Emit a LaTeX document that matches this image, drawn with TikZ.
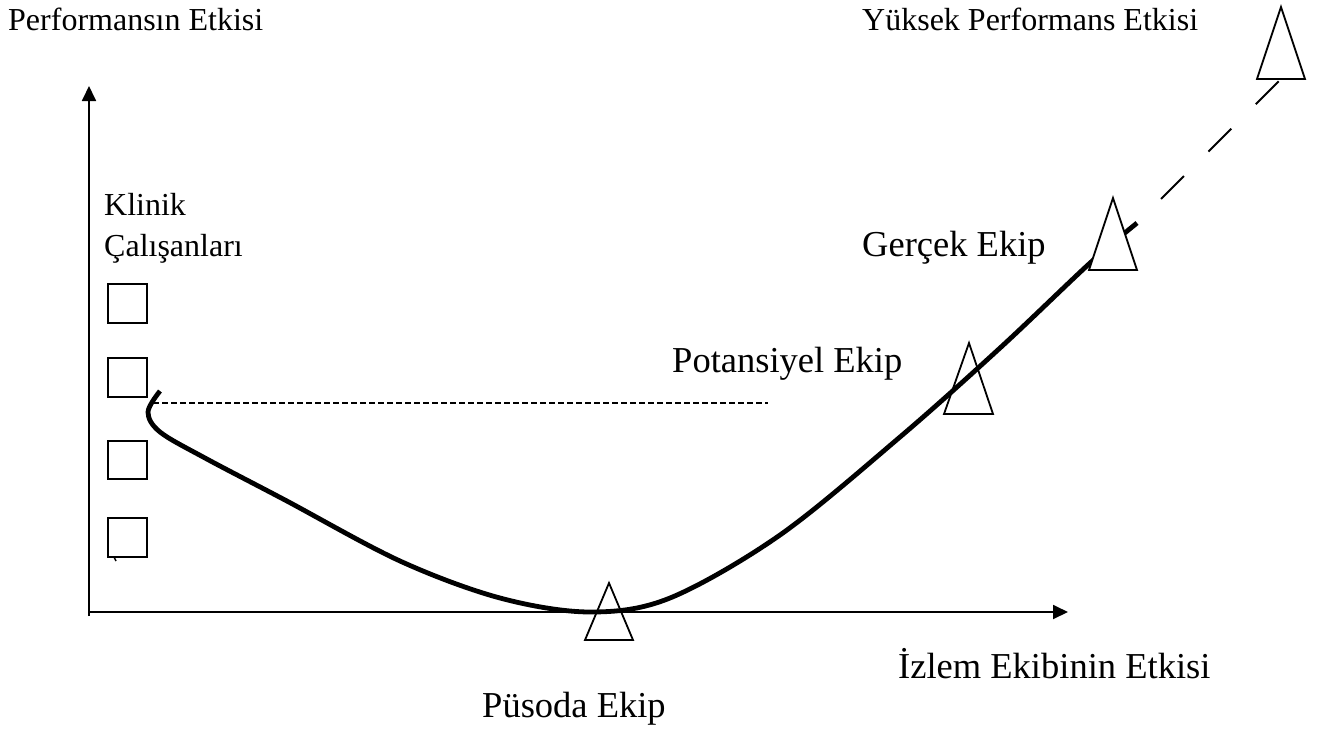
\documentclass[tikz,border=0pt]{standalone}
\usepackage{fontspec}
\setmainfont{Liberation Serif}
\usetikzlibrary{arrows.meta}
\begin{document}
\begin{tikzpicture}[x=1pt,y=-1pt,
  axis/.style={line width=1.8pt,-{Triangle[length=15pt,width=14pt]}},
  box/.style={draw,line width=1.8pt},
  tri/.style={draw,line width=1.8pt,line join=miter},
  curveline/.style={line width=4.8pt},
  lbl/.style={anchor=base west,inner sep=0pt,font=\fontsize{32}{38}\selectfont},
  biglbl/.style={anchor=base west,inner sep=0pt,font=\fontsize{36.5}{42}\selectfont}]
\useasboundingbox (0,0) rectangle (1325,731);
% axes
\coordinate (O) at (89,612);
\coordinate (ytop) at (89,86);
\coordinate (xend) at (1068,612);
\coordinate (ybot) at (89,616);
\draw[axis] (ybot) -- (ytop);
\draw[axis] (O) -- (xend);
% squares
\draw[box] (108,284) rectangle (147,323);
\draw[box] (108,358) rectangle (147,397);
\draw[box] (108,441) rectangle (147,479);
\draw[box] (108,518) rectangle (147,557);
\draw[line width=1.5pt] (114,557) -- (116,561);
% dashed horizontal
\coordinate (hs) at (153,403);
\coordinate (he) at (768,403);
\draw[line width=1.3pt,dash pattern=on 6pt off 3pt] (hs) -- (he);
% triangles under curve
\draw[tri] (609,583) -- (633,640) -- (585,640) -- cycle;
\draw[tri] (969,343) -- (993,414) -- (944,414) -- cycle;
% curve
\draw[curveline] plot[smooth,tension=0.55] coordinates {(160,391) (148,412) (160,432) (205,458) (285,500) (400,561) (500,598) (590,612) (670,598) (780,535) (900,437) (1000,348) (1090,263) (1137,223)};
% Gercek triangle
\draw[tri,fill=white] (1113,198) -- (1137,270) -- (1089,270) -- cycle;
% dashed to Yuksek
\coordinate (ds) at (1161,199);
\coordinate (de) at (1281,79);
\draw[line width=1.8pt,dash pattern=on 32.5pt off 34.5pt] (ds) -- (de);
\draw[tri] (1281,7) -- (1305,79) -- (1257,79) -- cycle;
% labels
\node[lbl] (perf) at (8,30) {Performansın Etkisi};
\node[lbl] (yuk) at (862,30) {Yüksek Performans Etkisi};
\node[lbl] (kl1) at (104,215) {Klinik};
\node[lbl] (kl2) at (104,256) {Çalışanları};
\node[biglbl] (ger) at (862,256) {Gerçek Ekip};
\node[biglbl] (pot) at (672,372) {Potansiyel Ekip};
\node[biglbl] (izl) at (898,678) {İzlem Ekibinin Etkisi};
\node[biglbl] (pus) at (482,717) {Püsoda Ekip};
\end{tikzpicture}
\end{document}
